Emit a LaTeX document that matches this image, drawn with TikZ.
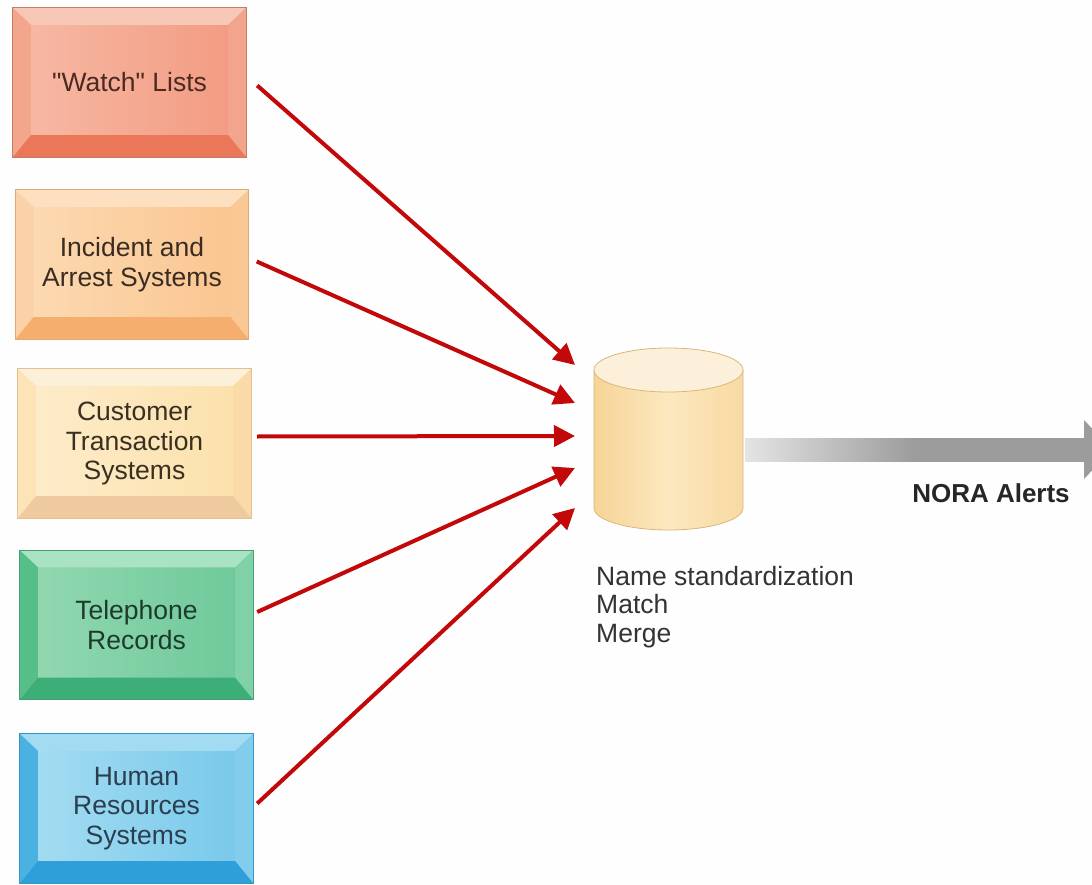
\documentclass[tikz,border=0pt]{standalone}
\usepackage{fontspec}
\setmainfont{Liberation Sans}[Ligatures=TeXOff]
\usetikzlibrary{arrows.meta,calc}
% colours
\definecolor{wfaceL}{HTML}{F7BAA6}\definecolor{wface}{HTML}{F29A80}\definecolor{wtop}{HTML}{F8C8B6}
\definecolor{wleft}{HTML}{F4A68D}\definecolor{wright}{HTML}{F2A48C}\definecolor{wbot}{HTML}{EA7757}
\definecolor{wline}{HTML}{C77A68}\definecolor{wtext}{HTML}{4A2A22}
\definecolor{ifaceL}{HTML}{FCDBB4}\definecolor{iface}{HTML}{FAC48E}\definecolor{itop}{HTML}{FCE0C0}
\definecolor{ileft}{HTML}{FBD2A8}\definecolor{iright}{HTML}{F9C894}\definecolor{ibot}{HTML}{F6AE6E}
\definecolor{iline}{HTML}{E0AA78}\definecolor{itext}{HTML}{3A2C22}
\definecolor{cfaceL}{HTML}{FDEDCC}\definecolor{cface}{HTML}{FCE0AA}\definecolor{ctop}{HTML}{FDF0D8}
\definecolor{cleft}{HTML}{FCE4B8}\definecolor{cright}{HTML}{FADAA6}\definecolor{cbot}{HTML}{EFCA9E}
\definecolor{cline}{HTML}{DEC196}\definecolor{ctext}{HTML}{3A3022}
\definecolor{tfaceL}{HTML}{94D9B2}\definecolor{tface}{HTML}{6CC898}\definecolor{ttop}{HTML}{AAE3C3}
\definecolor{tleft}{HTML}{56BE89}\definecolor{tright}{HTML}{80D1A8}\definecolor{tbot}{HTML}{3DAE78}
\definecolor{tline}{HTML}{4A9E72}\definecolor{ttext}{HTML}{1E3A2C}
\definecolor{hfaceL}{HTML}{A6DDF2}\definecolor{hface}{HTML}{76C8EA}\definecolor{htop}{HTML}{A2DBF2}
\definecolor{hleft}{HTML}{4AB1E0}\definecolor{hright}{HTML}{82CDEC}\definecolor{hbot}{HTML}{2E9FD8}
\definecolor{hline}{HTML}{3896C6}\definecolor{htext}{HTML}{2A3E50}
\definecolor{arrred}{HTML}{C20808}
\definecolor{cylL}{HTML}{F6D496}\definecolor{cylM}{HTML}{FCE8C0}\definecolor{cylR}{HTML}{F8D9A2}
\definecolor{cyltop}{HTML}{FDF0DA}\definecolor{cylline}{HTML}{D9B778}
\definecolor{labeltext}{HTML}{333333}
\definecolor{greylight}{HTML}{E4E4E4}
\definecolor{greydark}{HTML}{9C9C9C}
\pgfdeclarehorizontalshading{greyshaft}{100bp}{color(0bp)=(greylight); color(25bp)=(greylight); color(50bp)=(greydark); color(75bp)=(greydark); color(100bp)=(greydark)}
\tikzset{
  srcbox/.style={rectangle, minimum width=233pt, minimum height=149pt, inner sep=0pt,
    align=center, font=\fontsize{26.5}{29.5}\selectfont},
  redarrow/.style={draw=arrred, line width=4pt, -{Triangle[length=21pt,width=21pt]}},
  dbtext/.style={anchor=north west, inner sep=0pt, align=left, text=labeltext,
    font=\fontsize{26.5}{28.5}\selectfont},
  alerttext/.style={inner sep=0pt, text=black!85, font=\bfseries\fontsize{26}{28}\selectfont},
}
\newcommand\bevelbox[4]{%
  \node[srcbox, left color=#2faceL, right color=#2face, text=#2text] (#1) at (#3) {#4};
  \fill[#2top] (#1.north west) -- (#1.north east) -- ([shift={(-18,-17)}]#1.north east) -- ([shift={(18,-17)}]#1.north west) -- cycle;
  \fill[#2left] (#1.north west) -- ([shift={(18,-17)}]#1.north west) -- ([shift={(18,22)}]#1.south west) -- (#1.south west) -- cycle;
  \fill[#2right] (#1.north east) -- ([shift={(-18,-17)}]#1.north east) -- ([shift={(-18,22)}]#1.south east) -- (#1.south east) -- cycle;
  \fill[#2bot] (#1.south west) -- ([shift={(18,22)}]#1.south west) -- ([shift={(-18,22)}]#1.south east) -- (#1.south east) -- cycle;
  \draw[#2line, line width=0.8pt] (#1.north west) rectangle (#1.south east);
}
\begin{document}
\begin{tikzpicture}[x=1pt, y=1pt]
\clip (0,0) rectangle (1092,-885);
\fill[white!99!gray] (0,0) rectangle (1092,-885);

% source boxes
\bevelbox{watch}{w}{129.5,-82.5}{"Watch" Lists}
\bevelbox{incident}{i}{132,-264.5}{Incident and\\Arrest Systems}
\bevelbox{customer}{c}{134.5,-443.5}{Customer\\Transaction\\Systems}
\bevelbox{phone}{t}{136.5,-625}{Telephone\\Records}
\bevelbox{hr}{h}{136.5,-808.5}{Human\\Resources\\Systems}

% database cylinder
\node[minimum width=149pt, minimum height=182pt, inner sep=0pt] (db) at (668.5,-439) {};
\shade[left color=cylL, right color=cylR, middle color=cylM, draw=cylline, line width=0.8pt]
  (594,-370) -- (594,-508) arc[start angle=180, end angle=360, x radius=74.5pt, y radius=22pt] -- (743,-370) -- cycle;
\filldraw[fill=cyltop, draw=cylline, line width=0.8pt] (668.5,-370) ellipse [x radius=74.5pt, y radius=22pt];

% incoming arrows
\coordinate (t1) at (575,-365);
\coordinate (t2) at (575,-403);
\coordinate (t3) at (575,-436);
\coordinate (t4) at (575,-468);
\coordinate (t5) at (575,-508);
\draw[redarrow] ($(watch.east)+(11,-3)$) -- (t1);
\draw[redarrow] ($(incident.east)+(8,3)$) -- (t2);
\draw[redarrow] ($(customer.east)+(6,7)$) -- (t3);
\draw[redarrow] ($(phone.east)+(4,13)$) -- (t4);
\draw[redarrow] ($(hr.east)+(4,5)$) -- (t5);

% outgoing grey arrow
\coordinate (alertEnd) at (1112,-449.5);
\shade[shading=greyshaft] (745,-438) rectangle (1085,-461);
\fill[greydark] (1084,-420) -- (alertEnd) -- (1084,-479) -- cycle;
\node[alerttext] (alerts) at (991,-493) {NORA Alerts};

% database label
\node[dbtext] (dblabel) at (596,-566) {Name standardization\\Match\\Merge};
\end{tikzpicture}
\end{document}
